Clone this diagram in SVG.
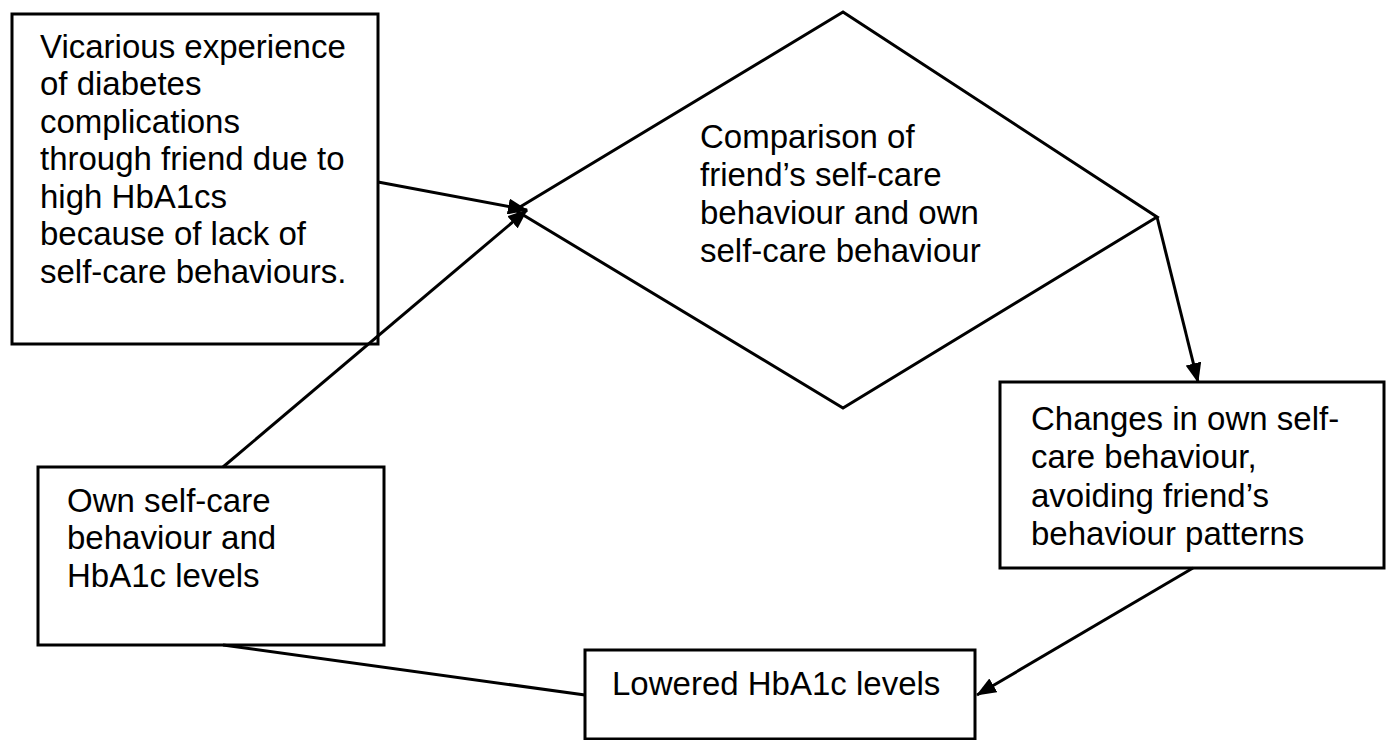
<svg xmlns="http://www.w3.org/2000/svg" width="1386" height="740" viewBox="0 0 1386 740">
  <style>
    .box { fill: #fff; stroke: #000; stroke-width: 3; }
    .lbl { font-family: "Liberation Sans", Arial, sans-serif; font-size: 33px; fill: #000; }
    .edge { fill: none; stroke: #000; stroke-width: 3; }
  </style>
  <defs>
    <marker id="arrow" viewBox="0 0 20 16" refX="19" refY="8" markerWidth="20" markerHeight="16" markerUnits="userSpaceOnUse" orient="auto">
      <path d="M0,0 L20,8 L0,16 Z" fill="#000"/>
    </marker>
  </defs>
  <rect width="1386" height="740" fill="#fff"/>

  <g id="node-vicarious">
    <rect class="box" x="12" y="14" width="366" height="330"/>
    <text class="lbl">
      <tspan x="40" y="58">Vicarious experience</tspan>
      <tspan x="40" y="95">of diabetes</tspan>
      <tspan x="40" y="133">complications</tspan>
      <tspan x="40" y="170">through friend due to</tspan>
      <tspan x="40" y="208">high HbA1cs</tspan>
      <tspan x="40" y="245">because of lack of</tspan>
      <tspan x="40" y="283">self-care behaviours.</tspan>
    </text>
  </g>

  <g id="node-comparison">
    <polygon class="box" points="843,12 1157,217 843,408 515,210"/>
    <text class="lbl">
      <tspan x="700" y="148">Comparison of</tspan>
      <tspan x="700" y="186">friend’s self-care</tspan>
      <tspan x="700" y="224">behaviour and own</tspan>
      <tspan x="700" y="262">self-care behaviour</tspan>
    </text>
  </g>

  <g id="node-own">
    <rect class="box" x="38" y="467" width="346" height="178"/>
    <text class="lbl">
      <tspan x="67" y="512">Own self-care</tspan>
      <tspan x="67" y="549">behaviour and</tspan>
      <tspan x="67" y="587">HbA1c levels</tspan>
    </text>
  </g>

  <g id="node-changes">
    <rect class="box" x="1000" y="382" width="384" height="186"/>
    <text class="lbl">
      <tspan x="1031" y="430">Changes in own self-</tspan>
      <tspan x="1031" y="468">care behaviour,</tspan>
      <tspan x="1031" y="507">avoiding friend’s</tspan>
      <tspan x="1031" y="545">behaviour patterns</tspan>
    </text>
  </g>

  <g id="node-lowered">
    <rect class="box" x="585" y="650" width="390" height="89"/>
    <text class="lbl" x="612" y="695">Lowered HbA1c levels</text>
  </g>

  <g id="connectors">
    <line class="edge" x1="378" y1="182" x2="527" y2="210" marker-end="url(#arrow)"/>
    <line class="edge" x1="223" y1="467" x2="527" y2="210" marker-end="url(#arrow)"/>
    <line class="edge" x1="1157" y1="217" x2="1198" y2="382" marker-end="url(#arrow)"/>
    <line class="edge" x1="1193" y1="568" x2="977" y2="695" marker-end="url(#arrow)"/>
    <line class="edge" x1="223" y1="645" x2="585" y2="695"/>
  </g>
</svg>
